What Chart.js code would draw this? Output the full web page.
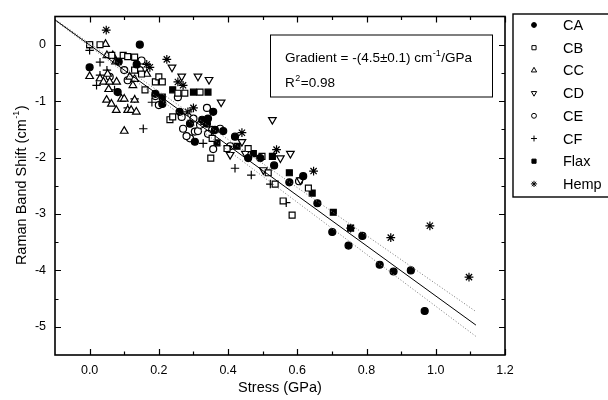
<!DOCTYPE html>
<html>
<head>
<meta charset="utf-8">
<script src="https://cdn.jsdelivr.net/npm/chart.js@4.4.1/dist/chart.umd.min.js"></script>
<style>
  html, body { margin: 0; padding: 0; background: #fff; }
  #wrap { width: 608px; height: 400px; position: relative; }
</style>
</head>
<body>
<div id="wrap"><canvas id="chart"></canvas></div>
<script>
// Raman band shift vs stress, points are [stress (GPa), shift (cm-1)]
const seriesNames = ['CA', 'CB', 'CC', 'CD', 'CE', 'CF', 'Flax', 'Hemp'];

const caPoints = [[0.0,-0.40],[0.145,0.0],[0.084,-0.30],[0.081,-0.84],[0.136,-0.35],[0.19,-0.87],[0.21,-1.05],
  [0.26,-1.19],[0.29,-1.40],[0.304,-1.72],[0.325,-1.33],[0.342,-1.31],[0.339,-1.40],[0.357,-1.19],[0.362,-1.51],
  [0.386,-1.53],[0.42,-1.63],[0.458,-2.01],[0.493,-2.01],[0.533,-2.14],[0.577,-2.44],[0.617,-2.33],[0.658,-2.81],
  [0.701,-3.32],[0.748,-3.56],[0.788,-3.39],[0.838,-3.90],[0.878,-4.02],[0.928,-4.00],[0.968,-4.72]];
const cbPoints = [[0.0,0.0],[0.03,0.0],[0.064,-0.19],[0.097,-0.19],[0.11,-0.21],[0.13,-0.22],[0.13,-0.45],
  [0.15,-0.52],[0.16,-0.80],[0.19,-0.66],[0.20,-0.57],[0.21,-0.66],[0.232,-1.33],[0.24,-1.28],[0.255,-0.86],
  [0.275,-0.86],[0.319,-0.84],[0.33,-1.36],[0.354,-1.66],[0.35,-2.01],[0.397,-1.84],[0.458,-1.84],[0.498,-1.98],
  [0.516,-2.27],[0.536,-2.47],[0.559,-2.77],[0.585,-3.02],[0.632,-2.54]];
const ccPoints = [[0.046,0.01],[0.0,-0.56],[0.05,-0.19],[0.067,-0.19],[0.03,-0.60],[0.04,-0.66],[0.058,-0.66],
  [0.078,-0.66],[0.052,-0.52],[0.055,-0.79],[0.049,-0.98],[0.063,-1.05],[0.077,-1.16],[0.092,-0.96],[0.10,-0.96],
  [0.11,-1.16],[0.12,-1.16],[0.135,-1.19],[0.13,-0.98],[0.10,-1.53],[0.116,-0.57],[0.13,-0.61],[0.125,-0.72],
  [0.165,-0.52],[0.075,-0.30]];
const cdPoints = [[0.238,-0.40],[0.266,-0.56],[0.313,-0.56],[0.345,-0.62],[0.38,-1.02],[0.528,-1.33],[0.40,-1.84],
  [0.406,-1.95],[0.44,-1.72],[0.45,-1.93],[0.502,-2.22],[0.551,-2.01],[0.58,-1.93],[0.609,-2.40]];
const cePoints = [[0.058,-0.57],[0.10,-0.45],[0.11,-0.63],[0.15,-0.28],[0.145,-0.45],[0.19,-0.91],[0.20,-1.07],
  [0.255,-0.93],[0.266,-1.28],[0.27,-1.49],[0.29,-1.66],[0.28,-1.62],[0.30,-1.31],[0.304,-1.54],[0.313,-1.53],
  [0.319,-1.42],[0.339,-1.12],[0.354,-1.51],[0.342,-1.58],[0.377,-1.49],[0.357,-1.85],[0.406,-1.80],[0.605,-2.42]];
const cfPoints = [[0.0,-0.10],[0.03,-0.31],[0.05,-0.45],[0.03,-0.54],[0.02,-0.72],[0.072,-0.80],[0.11,-1.12],
  [0.13,-0.96],[0.155,-1.49],[0.18,-1.02],[0.328,-1.75],[0.42,-2.19],[0.467,-2.31],[0.522,-2.47],[0.568,-2.80]];
const flaxPoints = [[0.0,0.0],[0.21,-0.93],[0.24,-0.80],[0.30,-0.84],[0.342,-0.84],[0.368,-1.74],[0.426,-1.80],
  [0.473,-1.93],[0.528,-1.98],[0.577,-2.27],[0.643,-2.63],[0.704,-2.97],[0.754,-3.25]];
const hempPoints = [[0.048,0.26],[0.136,-0.28],[0.165,-0.35],[0.174,-0.40],[0.223,-0.26],[0.255,-0.66],[0.27,-0.72],
  [0.284,-1.19],[0.30,-1.12],[0.44,-1.56],[0.54,-1.86],[0.647,-2.24],[0.754,-3.25],[0.87,-3.42],[0.983,-3.21],
  [1.096,-4.12]];

// linear fit and the dotted bands, read at the two ends
const fitX = [-0.1, 1.116];
const fitLine = [0.44, -4.97];
const fitUpper = [0.45, -4.73];
const fitLower = [0.43, -5.17];

const xTicks = [0.0, 0.2, 0.4, 0.6, 0.8, 1.0, 1.2];
const xMinor = [0.1, 0.3, 0.5, 0.7, 0.9, 1.1];
const yTicks = [0, -1, -2, -3, -4, -5];
const yMinor = [-0.5, -1.5, -2.5, -3.5, -4.5];

const gradientText = ['Gradient = -(4.5\u00b10.1) cm', '-1', '/GPa'];
const r2Text = ['R', '2', '=0.98'];

const FONT = '"Liberation Sans", Arial, sans-serif';

const allPoints = [caPoints, cbPoints, ccPoints, cdPoints, cePoints, cfPoints, flaxPoints, hempPoints];
const markerStyles = [
  { pointStyle: 'circle', radius: 3.5, fill: '#000', rotation: 0 },
  { pointStyle: 'rect', radius: 4.2, fill: '#fff', rotation: 0 },
  { pointStyle: 'triangle', radius: 4.4, fill: '#fff', rotation: 0 },
  { pointStyle: 'triangle', radius: 4.4, fill: '#fff', rotation: 180 },
  { pointStyle: 'circle', radius: 3.5, fill: '#fff', rotation: 0 },
  { pointStyle: 'cross', radius: 4.2, fill: '#000', rotation: 0 },
  { pointStyle: 'rect', radius: 4.2, fill: '#000', rotation: 0 },
  { pointStyle: 'star', radius: 4.4, fill: '#000', rotation: 0 }
];

const datasets = seriesNames.map((name, i) => ({
  label: name,
  data: allPoints[i].map(p => ({ x: p[0], y: p[1] })),
  pointStyle: markerStyles[i].pointStyle,
  pointRadius: markerStyles[i].radius,
  pointRotation: markerStyles[i].rotation,
  pointBackgroundColor: markerStyles[i].fill,
  pointBorderColor: '#000',
  pointBorderWidth: 1.2,
  showLine: false,
  order: 1
}));

function fitSet(name, ys, color, dash) {
  return {
    label: name,
    data: fitX.map((x, i) => ({ x: x, y: ys[i] })),
    showLine: true,
    borderColor: color,
    borderWidth: 1,
    borderDash: dash,
    pointRadius: 0,
    fill: false,
    order: 0
  };
}
datasets.push(fitSet('fit', fitLine, '#000', []));
datasets.push(fitSet('upper', fitUpper, '#777', [1, 2]));
datasets.push(fitSet('lower', fitLower, '#777', [1, 2]));

// frame with inward ticks on all four sides
const framePlugin = {
  id: 'frame',
  afterDatasetsDraw(chart) {
    const { ctx, chartArea: a, scales: { x, y } } = chart;
    ctx.save();
    ctx.strokeStyle = '#000';
    ctx.lineWidth = 1.2;
    ctx.beginPath();
    xTicks.concat(xMinor).forEach(v => {
      const len = xTicks.includes(v) ? 6 : 3.5;
      const px = Math.round(x.getPixelForValue(v)) + 0.5;
      ctx.moveTo(px, a.bottom); ctx.lineTo(px, a.bottom - len);
      ctx.moveTo(px, a.top); ctx.lineTo(px, a.top + len);
    });
    yTicks.concat(yMinor).forEach(v => {
      const len = yTicks.includes(v) ? 6 : 3.5;
      const py = Math.round(y.getPixelForValue(v)) + 0.5;
      ctx.moveTo(a.left, py); ctx.lineTo(a.left + len, py);
      ctx.moveTo(a.right, py); ctx.lineTo(a.right - len, py);
    });
    ctx.stroke();
    ctx.lineWidth = 1.6;
    ctx.strokeRect(a.left, a.top, a.right - a.left, a.bottom - a.top);

    // y axis title with superscript
    ctx.fillStyle = '#000';
    ctx.translate(21, (a.top + a.bottom) / 2);
    ctx.rotate(-Math.PI / 2);
    ctx.textBaseline = 'middle';
    const main = 'Raman Band Shift (cm';
    ctx.font = '14.5px ' + FONT;
    const w1 = ctx.measureText(main).width;
    ctx.font = '9px ' + FONT;
    const w2 = ctx.measureText('-1').width;
    ctx.font = '14.5px ' + FONT;
    const w3 = ctx.measureText(')').width;
    let sx = -(w1 + w2 + w3) / 2;
    ctx.textAlign = 'left';
    ctx.fillText(main, sx, 1);
    ctx.font = '9px ' + FONT;
    ctx.fillText('-1', sx + w1 + 0.5, -4);
    ctx.font = '14.5px ' + FONT;
    ctx.fillText(')', sx + w1 + w2 + 1, 1);
    ctx.restore();
  }
};

function superText(ctx, parts, x, y, size) {
  ctx.font = size + 'px ' + FONT;
  ctx.fillText(parts[0], x, y);
  let cx = x + ctx.measureText(parts[0]).width;
  ctx.font = Math.round(size * 0.65) + 'px ' + FONT;
  ctx.fillText(parts[1], cx + 0.5, y - size * 0.4);
  cx += ctx.measureText(parts[1]).width + 1;
  ctx.font = size + 'px ' + FONT;
  ctx.fillText(parts[2], cx, y);
}

// gradient / R2 text box inside the plot
const notePlugin = {
  id: 'note',
  afterDraw(chart) {
    const { ctx, chartArea: a } = chart;
    ctx.save();
    const bx = a.right - 235, by = a.top + 18, bw = 222, bh = 62;
    ctx.fillStyle = '#fff';
    ctx.fillRect(bx, by, bw, bh);
    ctx.strokeStyle = '#000';
    ctx.lineWidth = 1;
    ctx.strokeRect(bx + 0.5, by + 0.5, bw, bh);
    ctx.fillStyle = '#000';
    ctx.textBaseline = 'alphabetic';
    ctx.textAlign = 'left';
    superText(ctx, gradientText, bx + 15, by + 27, 13.5);
    superText(ctx, r2Text, bx + 15, by + 52, 13.5);
    ctx.restore();
  }
};

// legend box at the right, partly cut by the page edge
const legendPlugin = {
  id: 'sideLegend',
  afterDraw(chart) {
    const { ctx } = chart;
    ctx.save();
    ctx.strokeStyle = '#000';
    ctx.lineWidth = 1.4;
    ctx.strokeRect(513, 14, 110, 183);
    ctx.font = '14.5px ' + FONT;
    ctx.textBaseline = 'middle';
    ctx.textAlign = 'left';
    seriesNames.forEach((name, i) => {
      const yy = 25 + i * 22.7;
      const m = markerStyles[i];
      ctx.fillStyle = m.fill;
      ctx.strokeStyle = '#000';
      ctx.lineWidth = 1;
      Chart.helpers.drawPoint(ctx, {
        pointStyle: m.pointStyle, radius: m.radius * 0.7, rotation: m.rotation, borderWidth: 1
      }, 534, yy);
      ctx.fillStyle = '#000';
      ctx.fillText(name, 563, yy + 1);
    });
    ctx.restore();
  }
};

new Chart(document.getElementById('chart'), {
  type: 'scatter',
  data: { datasets: datasets },
  options: {
    responsive: true,
    maintainAspectRatio: false,
    animation: false,
    events: [],
    layout: { padding: { top: 15, right: 103, left: 0, bottom: 0 } },
    plugins: {
      legend: { display: false },
      tooltip: { enabled: false }
    },
    scales: {
      x: {
        type: 'linear',
        min: -0.1,
        max: 1.2,
        afterBuildTicks: s => { s.ticks = xTicks.map(v => ({ value: v })); },
        afterFit: s => { s.height = 45; },
        grid: { display: false, drawTicks: false },
        border: { display: false },
        ticks: {
          padding: 8,
          color: '#000',
          font: { family: FONT, size: 12.5 },
          callback: v => v.toFixed(1)
        },
        title: {
          display: true,
          text: 'Stress (GPa)',
          color: '#000',
          font: { family: FONT, size: 14.5 },
          padding: { top: 0, bottom: 3 }
        }
      },
      y: {
        type: 'linear',
        min: -5.5,
        max: 0.5,
        afterBuildTicks: s => { s.ticks = yTicks.map(v => ({ value: v })); },
        afterFit: s => { s.width = 55; },
        grid: { display: false, drawTicks: false },
        border: { display: false },
        ticks: {
          padding: 9,
          color: '#000',
          font: { family: FONT, size: 12.5 },
          callback: v => String(v)
        }
      }
    }
  },
  plugins: [framePlugin, notePlugin, legendPlugin]
});
</script>
</body>
</html>
